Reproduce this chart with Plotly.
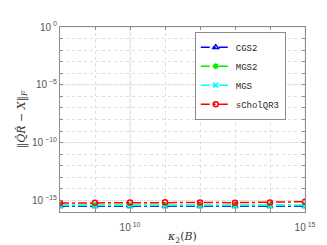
import plotly.graph_objects as go

kappa = [1e8, 1e9, 1e10, 1e11, 1e12, 1e13, 1e14, 1e15]
cgs2 = [3.1e-16, 3.1e-16, 3.2e-16, 3.2e-16, 3.1e-16, 3.1e-16, 3.1e-16, 3.1e-16]
mgs2 = [3.8e-16, 3.8e-16, 3.9e-16, 3.9e-16, 3.8e-16, 3.8e-16, 3.8e-16, 3.8e-16]
mgs = [3.6e-16, 3.6e-16, 3.7e-16, 3.7e-16, 3.6e-16, 3.6e-16, 3.6e-16, 3.6e-16]
scholqr3 = [6.0e-16, 6.3e-16, 6.6e-16, 6.8e-16, 6.6e-16, 6.4e-16, 6.6e-16, 7.8e-16]

x_labelled = {10: "10<sup> 10</sup>", 15: "10<sup> 15</sup>"}
y_labelled = {0: "10<sup> 0</sup>", -5: "10<sup> −5</sup>", -10: "10<sup> −10</sup>", -15: "10<sup> −15</sup>"}
x_decades = list(range(8, 16))
y_decades = list(range(-16, 1))

series = [
    ("CGS2", cgs2, "#0000ff", "triangle-up-open"),
    ("MGS2", mgs2, "#00ee00", "asterisk-open"),
    ("MGS", mgs, "#00ffff", "x-thin-open"),
    ("sCholQR3", scholqr3, "#ff0000", "circle-open"),
]

fig = go.Figure()
for name, vals, col, sym in series:
    fig.add_trace(go.Scatter(
        x=kappa, y=vals, name=name, mode="lines+markers",
        line=dict(color=col, width=1.5, dash="dashdot"),
        marker=dict(symbol=sym, size=5, color=col, line=dict(color=col, width=1.5)),
    ))

tickfont = dict(family="Liberation Sans, Arial", size=10, color="#555555")
axis_common = dict(
    type="log", showline=True, mirror="ticks", linecolor="#8c8c8c", linewidth=1,
    ticks="inside", ticklen=3, tickcolor="#8c8c8c",
    gridcolor="#dedede", gridwidth=1, griddash="dot", zeroline=False,
    tickmode="array", tickfont=tickfont,
)

fig.update_xaxes(
    **axis_common, range=[8, 15],
    tickvals=[10.0 ** k for k in x_decades],
    ticktext=[x_labelled.get(k, "") for k in x_decades],
    ticklabelstandoff=6,
    title=dict(text="<i>κ</i><sub>2</sub>(<i>B</i>)", font=dict(family="DejaVu Serif", size=11, color="#333333"), standoff=0),
)
fig.update_yaxes(
    **axis_common, range=[-16, 0],
    tickvals=[10.0 ** k for k in y_decades],
    ticktext=[y_labelled.get(k, "") for k in y_decades],
    title=dict(text="‖<i>Q̂R̂</i> − <i>X</i>‖<sub><i>F</i></sub>", font=dict(family="DejaVu Serif", size=11, color="#333333"), standoff=4),
)

# solid major grid lines at labelled ticks
for k in x_labelled:
    fig.add_shape(type="line", xref="x", yref="paper", x0=10.0 ** k, x1=10.0 ** k, y0=0, y1=1,
                  line=dict(color="#e6e6e6", width=1), layer="below")
for k in y_labelled:
    fig.add_shape(type="line", xref="paper", yref="y", x0=0, x1=1, y0=10.0 ** k, y1=10.0 ** k,
                  line=dict(color="#e6e6e6", width=1), layer="below")

fig.update_layout(
    width=327, height=245,
    margin=dict(l=51, r=30, t=18, b=36),
    paper_bgcolor="white", plot_bgcolor="white",
    showlegend=True,
    legend=dict(
        x=0.55, y=0.975, xanchor="left", yanchor="top",
        bgcolor="white", bordercolor="#8c8c8c", borderwidth=1,
        font=dict(family="Liberation Mono, Courier New", size=9, color="#262626"),
        tracegroupgap=0, itemwidth=30,
    ),
)

fig.write_html("out.html")
